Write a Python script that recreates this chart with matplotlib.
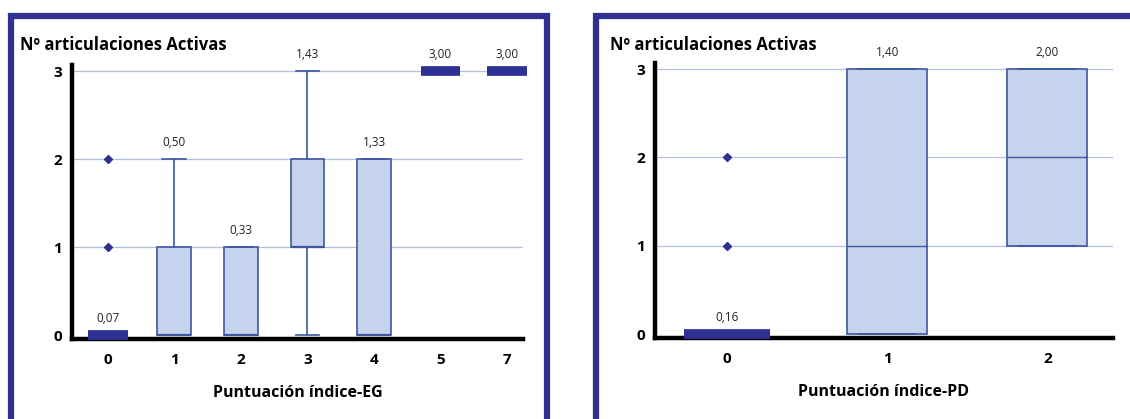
import matplotlib
matplotlib.use('Agg')
import matplotlib.pyplot as plt
from matplotlib.patches import Rectangle

plt.rcParams['font.family'] = ['Open Sans', 'DejaVu Sans']

# data
eg_cats = ['0', '1', '2', '3', '4', '5', '7']
eg_q1 = [0, 0, 0, 1, 0, 3, 3]
eg_med = [0, 0, 0, 1, 0, 3, 3]
eg_q3 = [0, 1, 1, 2, 2, 3, 3]
eg_lo = [0, 0, 0, 0, 0, 3, 3]
eg_hi = [0, 2, 1, 3, 2, 3, 3]
eg_mean = [0.07, 0.50, 0.33, 1.43, 1.33, 3.00, 3.00]
eg_out = [[1, 2], [], [], [], [], [], []]

pd_cats = ['0', '1', '2']
pd_q1 = [0, 0, 1]
pd_med = [0, 1, 2]
pd_q3 = [0, 3, 3]
pd_lo = [0, 0, 1]
pd_hi = [0, 3, 3]
pd_mean = [0.16, 1.40, 2.00]
pd_out = [[1, 2], [], []]

ylabel = 'Nº articulaciones Activas'

NAVY = '#2e3192'
EDGE = '#3d56a0'
FILL = '#c5d4ec'
GRID = '#b3bfe3'

fig = plt.figure(figsize=(11.3, 4.19), dpi=100)

# panel frames
for x0, w in [(10.5 / 1130, 536 / 1130), (596 / 1130, 600 / 1130)]:
    fig.patches.append(Rectangle((x0, -0.2), w, 1.2 - 16 / 419, transform=fig.transFigure,
                                 fill=False, edgecolor=NAVY, linewidth=4.5))


def panel(ax, cats, q1, med, q3, lo, hi, mean, out, xlim, boxw, flatw, med_lw, xlabel):
    pos = list(range(len(cats)))
    stats, bpos = [], []
    for i in pos:
        for v in out[i]:
            ax.plot(i, v, marker='D', ms=4, color=NAVY, zorder=4, clip_on=False)
        if q1[i] == q3[i]:
            ax.hlines(med[i], i - flatw / 2, i + flatw / 2, color=NAVY, linewidth=7,
                      zorder=4, clip_on=False)
            continue
        stats.append(dict(med=med[i], q1=q1[i], q3=q3[i], whislo=lo[i], whishi=hi[i], fliers=[]))
        bpos.append(i)
    ax.bxp(stats, positions=bpos, widths=boxw, patch_artist=True, showfliers=False,
           capwidths=0.36,
           boxprops=dict(facecolor=FILL, edgecolor=EDGE, linewidth=1.2),
           medianprops=dict(color=EDGE, linewidth=med_lw),
           whiskerprops=dict(color=EDGE, linewidth=1.2),
           capprops=dict(color=EDGE, linewidth=1.2), zorder=3)
    for i in pos:
        top = max(hi[i], q3[i])
        ax.annotate(f'{mean[i]:.2f}'.replace('.', ','), (i, top), xytext=(0, 12),
                    textcoords='offset points', ha='center', va='center', fontsize=8.5,
                    color='#222222')
    ax.set_xlim(*xlim)
    ax.set_ylim(-0.045, 3.07)
    ax.set_yticks([0, 1, 2, 3])
    ax.set_xticks(pos)
    ax.set_xticklabels(cats)
    ax.tick_params(length=0, labelsize=11)
    ax.tick_params(axis='x', pad=10)
    ax.tick_params(axis='y', pad=7)
    for lab in ax.get_xticklabels() + ax.get_yticklabels():
        lab.set_fontweight('bold')
    for v in [1, 2, 3]:
        ax.axhline(v, color=GRID, linewidth=0.9, zorder=1)
    for s in ['top', 'right']:
        ax.spines[s].set_visible(False)
    for s in ['left', 'bottom']:
        ax.spines[s].set_linewidth(3.2)
        ax.spines[s].set_color('black')
    ax.set_xlabel(xlabel, fontsize=11.5, fontweight='bold', labelpad=13)


ax1 = fig.add_axes([72 / 1130, 80 / 419, 451 / 1130, 274 / 419])
panel(ax1, eg_cats, eg_q1, eg_med, eg_q3, eg_lo, eg_hi, eg_mean, eg_out,
      (-0.54, 6.24), 0.51, 0.6, 1.6, 'Puntuación índice-EG')
fig.text(20 / 1130, 1 - 45 / 419, ylabel, fontsize=12, fontweight='bold', va='center')

ax2 = fig.add_axes([655 / 1130, 81 / 419, 458 / 1130, 275 / 419])
panel(ax2, pd_cats, pd_q1, pd_med, pd_q3, pd_lo, pd_hi, pd_mean, pd_out,
      (-0.45, 2.41), 0.5, 0.54, 1.0, 'Puntuación índice-PD')
fig.text(610 / 1130, 1 - 45 / 419, ylabel, fontsize=12, fontweight='bold', va='center')

fig.savefig('out.png', dpi=100)
